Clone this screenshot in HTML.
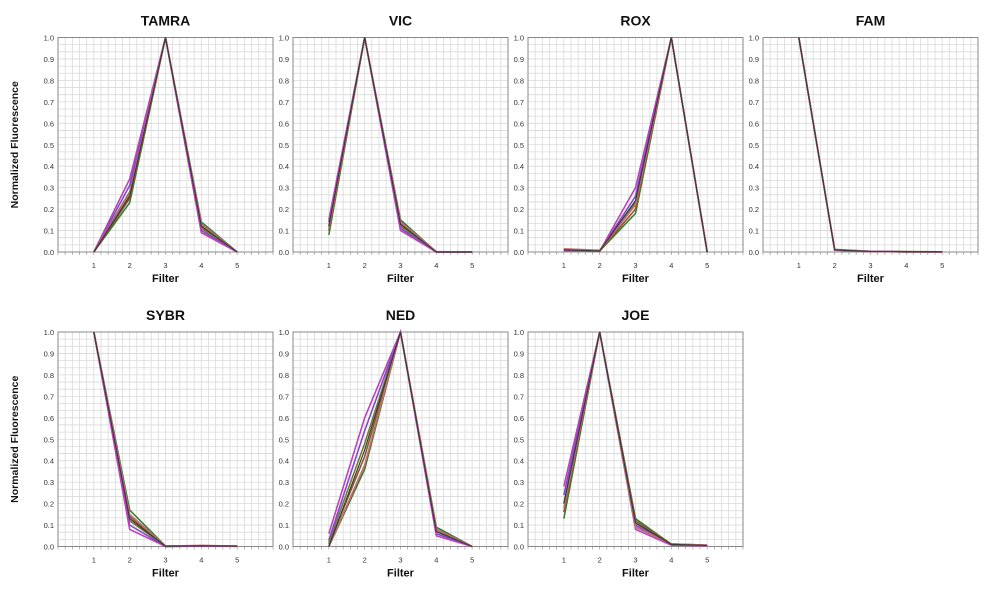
<!DOCTYPE html>
<html><head><meta charset="utf-8"><style>
body{margin:0;background:#fff;width:1000px;height:587px;overflow:hidden;font-family:"Liberation Sans",Arial,sans-serif}
svg text{font-family:"Liberation Sans",Arial,sans-serif}
</style></head><body>
<svg id="c" width="1000" height="587" xmlns="http://www.w3.org/2000/svg"></svg>
<script>
const panelNames=["TAMRA","VIC","ROX","FAM","SYBR","NED","JOE"];
const filters=[1,2,3,4,5];
const xTicks=["1","2","3","4","5"];
const yTicks=["0.0","0.1","0.2","0.3","0.4","0.5","0.6","0.7","0.8","0.9","1.0"];
const seriesColors=["#3a7a3a","#8a5a2a","#7a7a30","#7a50c0","#c040c0","#c07070","#3a3a3a"];
const tamra=[[0,.23,1,.14,0],[0,.25,1,.12,0],[0,.28,1,.11,0],[0,.31,1,.10,0],[0,.34,1,.09,0],[0,.27,1,.13,0],[0,.26,1,.12,0]];
const vic=[[.08,1,.15,0,0],[.10,1,.13,0,0],[.12,1,.12,0,0],[.14,1,.11,0,0],[.15,1,.10,0,0],[.11,1,.14,.002,0],[.12,1,.13,0,0]];
const rox=[[.01,.005,.18,1,0],[.01,.005,.20,1,0],[.012,.006,.23,1,0],[.008,.004,.26,1,0],[.006,.004,.30,1,0],[.015,.008,.22,1,0],[.01,.005,.24,1,0]];
const fam=[[1,.012,.003,.001,.001],[1,.01,.002,.001,.001],[1,.008,.002,.002,.001],[1,.01,.003,.001,0],[1,.009,.002,.001,.001],[1,.011,.002,.001,.001],[1,.01,.002,.001,.001]];
const sybr=[[1,.17,.002,.003,.002],[1,.14,.001,.004,.002],[1,.12,.001,.003,.002],[1,.10,0,.002,.001],[1,.08,0,.002,.001],[1,.15,.002,.005,.002],[1,.13,.001,.003,.002]];
const ned=[[0,.36,1,.09,0],[.01,.42,1,.08,0],[.02,.48,1,.07,0],[.03,.54,1,.06,0],[.06,.60,1,.05,0],[0,.38,1,.08,0],[0,.45,1,.07,0]];
const joe=[[.13,1,.13,.01,.005],[.16,1,.12,.012,.006],[.20,1,.11,.01,.005],[.24,1,.10,.008,.004],[.28,1,.08,.006,.004],[.18,1,.09,.012,.006],[.2,1,.11,.01,.005]];
const panelData=[tamra,vic,rox,fam,sybr,ned,joe];
const NS="http://www.w3.org/2000/svg";
const svg=document.getElementById('c');
function mk(t,a,p){const e=document.createElementNS(NS,t);for(const k in a)e.setAttribute(k,a[k]);(p||svg).appendChild(e);return e;}
panelNames.forEach((name,pi)=>{
  const col=pi<4?pi:pi-4,row=pi<4?0:1;
  const L=58+col*235,T=row?332:37.5,W=215,H=214.5;
  const xs=v=>L+v/6*W, ys=v=>T+H-v*H;
  const g=mk('g',{});
  
  
  const t=mk('text',{x:L+W/2,y:T-12,'text-anchor':'middle','font-size':14,'font-weight':'bold',fill:'#111'},g);
  t.textContent=name;
  
  
  for(let i=1;i<30;i++){
    mk('line',{x1:L+i*W/30,x2:L+i*W/30,y1:T,y2:T+H,stroke:'#dadada','stroke-width':0.8},g);
    mk('line',{x1:L,x2:L+W,y1:T+i*H/30,y2:T+i*H/30,stroke:'#dadada','stroke-width':0.8},g);
  }
  for(let i=0;i<=30;i++) mk('line',{x1:L+i*W/30,x2:L+i*W/30,y1:T+H,y2:T+H+3,stroke:'#999','stroke-width':0.7},g);
  const fr=mk('rect',{x:L,y:T,width:W,height:H,fill:'none',stroke:'#888','stroke-width':1},g);
  
  
  yTicks.forEach((lab,i)=>{const tt=mk('text',{x:L-4,y:ys(i/10)+3,'text-anchor':'end','font-size':7.5,fill:'#333'},g);tt.textContent=lab;
    
    });
  filters.forEach((f,i)=>{const tt=mk('text',{x:xs(f),y:T+H+16,'text-anchor':'middle','font-size':7.5,fill:'#333'},g);tt.textContent=xTicks[i];
    
    });
  const xt=mk('text',{x:L+W/2,y:T+H+30,'text-anchor':'middle','font-size':11,'font-weight':'bold',fill:'#111'},g);
  xt.textContent='Filter';
  
  
  panelData[pi].forEach((s,si)=>{
    const pts=s.map((v,i)=>xs(filters[i])+','+ys(v)).join(' ');
    const pl=mk('polyline',{points:pts,fill:'none',stroke:seriesColors[si],'stroke-width':si==6?1.2:1.6},g);
    
    
  });
  if(col==0){
    const yt=mk('text',{x:0,y:0,transform:`translate(18,${T+H/2}) rotate(-90)`,'text-anchor':'middle','font-size':10.5,'font-weight':'bold',fill:'#111'},g);
    yt.textContent='Normalized Fluorescence';
    
    
  }
});
</script>
</body></html>
